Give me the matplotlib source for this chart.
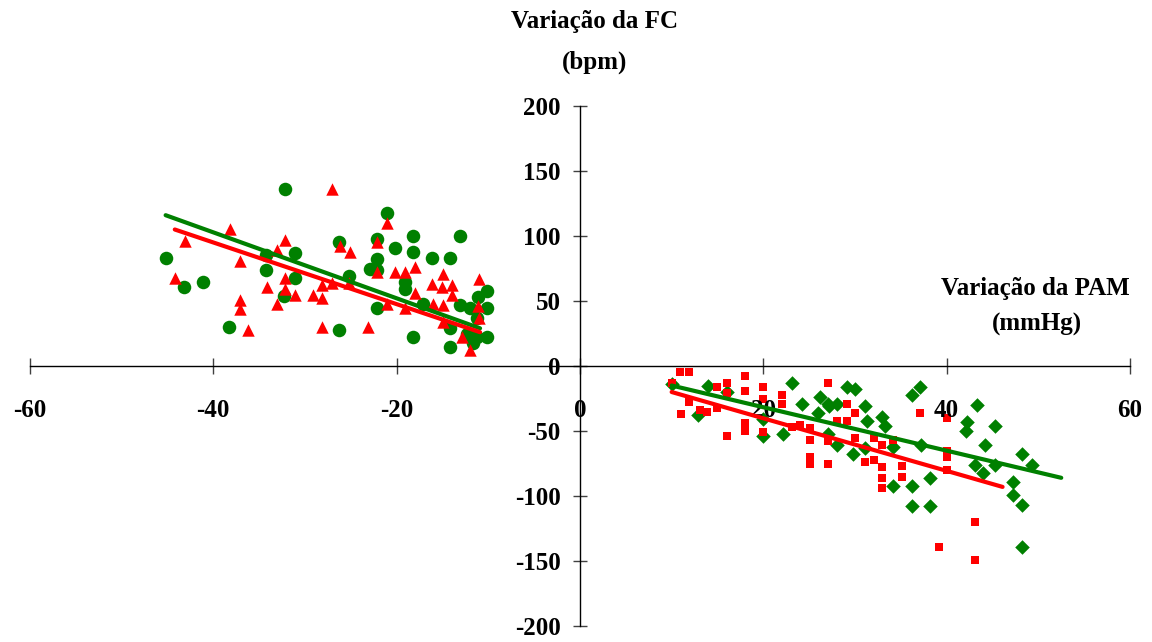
import numpy as np
import matplotlib
matplotlib.use("Agg")
import matplotlib.pyplot as plt

plt.rcParams['font.family'] = ['Liberation Serif', 'DejaVu Serif']
plt.rcParams['font.weight'] = 'bold'
plt.rcParams['axes.unicode_minus'] = False

# lado esquerdo (queda da PAM) - circulos verdes
circ_x = [-45.2, -43.2, -41.1, -38.3, -32.2, -34.3, -34.3, -31.1, -31.1, -32.3,
          -26.3, -25.2, -26.3, -22.9, -21.1, -22.1, -20.2, -18.2, -18.2, -22.1,
          -22.1, -19.1, -19.1, -16.1, -14.2, -13.1, -22.1, -18.2, -17.1, -14.2,
          -13.1, -12.0, -10.1, -11.1, -10.1, -11.2, -14.2, -12.3, -11.2, -10.1, -11.7]
circ_y = [83, 61, 65, 30, 136, 85, 74, 87, 68, 54,
          95, 69, 28, 75, 118, 98, 91, 100, 88, 82,
          74, 65, 59, 83, 83, 100, 45, 22, 48, 15,
          47, 45, 58, 53, 45, 37, 29, 25, 22, 22, 18]

# triangulos vermelhos
tri_x = [-27.1, -38.2, -43.1, -37.1, -44.2, -32.2, -33.1, -26.2, -25.1, -37.1,
         -37.1, -36.2, -34.1, -32.2, -32.2, -33.1, -31.1, -29.1, -28.1, -28.1,
         -27.1, -25.2, -28.1, -23.1, -21.1, -22.1, -22.1, -20.2, -19.1, -18.0,
         -18.0, -14.9, -16.1, -15.1, -14.0, -14.0, -11.0, -21.1, -19.1, -16.0,
         -14.9, -14.9, -11.1, -11.0, -12.9, -12.0]
tri_y = [136, 105, 96, 81, 68, 97, 89, 92, 88, 51,
         44, 28, 61, 68, 59, 48, 55, 55, 52, 62,
         64, 64, 30, 30, 110, 95, 72, 72, 72, 76,
         56, 71, 63, 61, 62, 55, 67, 48, 45, 48,
         47, 34, 46, 37, 22, 12]

# lado direito (aumento da PAM) - losangos verdes
dia_x = [10, 14, 16, 12.9, 23.1, 24.2, 22.1, 20, 20, 26.2,
         26, 27.1, 28, 28, 27.1, 29.1, 30, 29.8, 31.1, 31.3,
         33, 33.3, 36.2, 37.1, 31.1, 34.1, 37.2, 38.2, 36.2, 34.1,
         36.2, 38.2, 43.3, 42.2, 42.1, 45.3, 44.2, 43.1, 44, 45.3,
         48.2, 49.3, 47.2, 47.2, 48.2, 48.2, 27.2]
dia_y = [-14, -15, -20, -38, -13, -29, -52, -54, -41, -24,
         -36, -29, -29, -61, -52, -16, -18, -68, -31, -42,
         -39, -46, -22, -16, -63, -62, -61, -86, -92, -92,
         -108, -108, -30, -43, -50, -46, -61, -76, -82, -76,
         -68, -76, -89, -99, -107, -139, -31]

# quadrados vermelhos
sq_x = [10.9, 11.9, 10, 11.9, 11, 13.1, 13.9, 15, 15, 16,
        16, 16, 18, 18, 18, 18, 20, 20, 22, 22,
        20, 23.1, 24, 25.1, 25.1, 25.1, 25.1, 27.1, 27.1, 27.1,
        28, 29.1, 29.1, 30, 30, 31.1, 32.1, 32.1, 33, 33,
        33, 33, 34.1, 35.1, 35.1, 37.1, 40, 40, 40, 40,
        43.1, 39.2, 43.1]
sq_y = [-4.5, -4.5, -13, -28, -37, -34, -35, -32, -16, -13,
        -21, -54, -8, -19, -44, -50, -16, -25, -22, -29,
        -51, -47, -45, -48, -57, -70, -75, -75, -13, -58,
        -42, -29, -42, -36, -55, -74, -72, -55, -61, -78,
        -86, -94, -57, -77, -85, -36, -40, -65, -70, -80,
        -120, -139, -149]

# linhas de tendencia (extremos)
trend_circ_x, trend_circ_y = [-45.2, -10.9], [116, 29]
trend_tri_x, trend_tri_y = [-44.2, -10.9], [105, 26]
trend_dia_x, trend_dia_y = [10, 52.5], [-15, -86]
trend_sq_x, trend_sq_y = [10, 46.1], [-20, -93]

green = '#008000'
red = '#ff0000'

fig = plt.figure(figsize=(11.52, 6.42), dpi=100)
ax = fig.add_axes([0.026, 0.0249, 0.9549, 0.81])

ax.scatter(circ_x, circ_y, s=95, marker='o', color=green, linewidths=0, zorder=1)
ax.scatter(tri_x, tri_y, s=80, marker='^', color=red, linewidths=0, zorder=1.1)
ax.scatter(dia_x, dia_y, s=55, marker='D', color=green, linewidths=0, zorder=1)
ax.scatter(sq_x, sq_y, s=38, marker='s', color=red, linewidths=0, zorder=1.1)

ax.plot(trend_circ_x, trend_circ_y, color=green, lw=3, solid_capstyle='round')
ax.plot(trend_tri_x, trend_tri_y, color=red, lw=3, solid_capstyle='round')
ax.plot(trend_dia_x, trend_dia_y, color=green, lw=3, solid_capstyle='round')
ax.plot(trend_sq_x, trend_sq_y, color=red, lw=3, solid_capstyle='round')

ax.set_xlim(-60, 60)
ax.set_ylim(-200, 200)

for s in ['top', 'right']:
    ax.spines[s].set_visible(False)
ax.spines['left'].set_position(('data', 0))
ax.spines['bottom'].set_position(('data', 0))
for s in ['left', 'bottom']:
    ax.spines[s].set_linewidth(1)
    ax.spines[s].set_color('black')

ax.set_xticks(np.arange(-60, 61, 20))
ax.set_yticks(np.arange(-200, 201, 50))
ax.tick_params(axis='x', direction='inout', length=12, width=1, pad=18,
               labelsize=18, color='#404040')
ax.tick_params(axis='y', direction='inout', length=10, width=1, pad=9,
               labelsize=18, color='#404040')
for lab in ax.get_xticklabels() + ax.get_yticklabels():
    lab.set_fontweight('bold')

fig.text(0.5165, 0.966, 'Variação da FC', ha='center', va='center',
         fontsize=18, fontweight='bold')
fig.text(0.5165, 0.903, '(bpm)', ha='center', va='center',
         fontsize=18, fontweight='bold')
fig.text(0.899, 0.551, 'Variação da PAM', ha='center', va='center',
         fontsize=18, fontweight='bold')
fig.text(0.900, 0.494, '(mmHg)', ha='center', va='center',
         fontsize=18, fontweight='bold')

fig.savefig('out.png', dpi=100)
